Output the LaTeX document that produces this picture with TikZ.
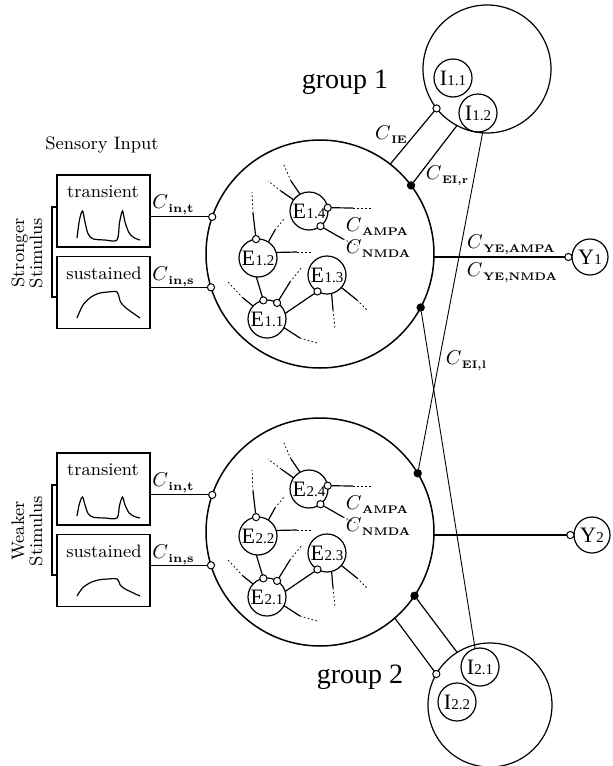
\documentclass[tikz,border=0pt]{standalone}
\usepackage{fontspec}
\newfontfamily\tms{Liberation Serif}
\usetikzlibrary{calc}
\newcommand{\Cl}[1]{$C$\kern0.2pt\raisebox{-0.5ex}{\fontsize{5.5}{6}\selectfont\bfseries #1}}
\newcommand{\Cn}[1]{$C$\kern0.2pt\raisebox{-0.5ex}{\fontsize{6}{6}\selectfont\bfseries #1}}
\newcommand{\Nl}[2]{{\tms\fontsize{11}{12}\selectfont #1\kern0.2pt{\fontsize{7.5}{8}\selectfont #2}}}
\tikzset{
  bigc/.style={circle,draw,line width=0.75pt,inner sep=0pt,outer sep=0pt},
  neur/.style={circle,draw,line width=0.6pt,minimum size=19pt,inner sep=0pt,outer sep=0pt},
  odot/.style={circle,draw,fill=white,line width=0.5pt,minimum size=3.6pt,inner sep=0pt,outer sep=0pt},
  fdot/.style={circle,fill=black,minimum size=4.2pt,inner sep=0pt,outer sep=0pt},
  sbox/.style={draw,line width=0.7pt,minimum width=46.5pt,minimum height=36pt,inner sep=0pt},
  wire/.style={line width=0.6pt},
  fine/.style={line width=0.45pt},
  fade/.style={line width=0.4pt,dash pattern=on 0.8pt off 1.2pt},
  lab/.style={font=\fontsize{9}{10}\selectfont,inner sep=0pt},
  clab/.style={font=\fontsize{10}{12}\selectfont,inner sep=0pt},
  glab/.style={font=\tms\fontsize{14}{16}\selectfont,inner sep=0pt}
}
% #1 index, #2 vertical shift (px), #3 stimulus word, #4 transient peak, #5 sustained plateau
\newcommand{\drawgroup}[5]{%
\begin{scope}[shift={(0,#2)}]
  \node[bigc,minimum size=114pt] (c#1) at (320,254) {};
  % stimulus boxes
  \node[sbox] (tr#1) at (103.5,211) {};
  \node[sbox] (su#1) at (103.5,292.5) {};
  \node[lab] at (103,192) {transient};
  \node[lab] at (104,273) {sustained};
  \draw[wire] plot[smooth,tension=0.5] coordinates {(77,238) (79.5,{240-0.7*#4}) (82.5,{240-#4}) (85,{240-0.62*#4}) (88,{240-0.22*#4}) (93,{240-0.04*#4}) (105,240) (117,240) (119.5,{240-0.6*#4}) (122.5,{240-#4}) (125,{240-0.62*#4}) (129,{240-0.25*#4}) (134,{240-0.08*#4}) (140,240)};
  \draw[wire] plot[smooth,tension=0.5] coordinates {(77,318) (83,{318-0.5*#5}) (91.5,{318-0.82*#5}) (100,{318-0.96*#5}) (108,{318-#5}) (117,{318-#5}) (120.5,{318-0.62*#5}) (125,{318-0.42*#5}) (130,{318-0.27*#5}) (140,318)};
  % bracket and stimulus label
  \coordinate (bt#1) at (52,207);
  \coordinate (bb#1) at (52,297);
  \draw[line width=0.6pt] (tr#1.west |- bt#1) -- (bt#1) -- (bb#1) -- (su#1.west |- bb#1);
  \node[rotate=90,align=center,font=\fontsize{9}{9}\selectfont,inner sep=0pt] at (27,253) {#3\\Stimulus};
  % inputs
  \node[odot] (it#1) at (c#1.161) {};
  \node[odot] (is#1) at (c#1.197.4) {};
  \draw[wire] (tr#1.east |- it#1) -- (it#1);
  \draw[wire] (su#1.east |- is#1) -- (is#1);
  \node[clab] at (173,205) {\Cn{in,t}};
  \node[clab] at (173,277) {\Cn{in,s}};
  % neurons
  \node[neur] (E#1-1) at (267,319) {\Nl{E}{#1.1}};
  \node[neur] (E#1-2) at (258,258) {\Nl{E}{#1.2}};
  \node[neur] (E#1-3) at (327,275) {\Nl{E}{#1.3}};
  \node[neur] (E#1-4) at (309,211) {\Nl{E}{#1.4}};
  % E4 connections
  \node[odot] (da#1) at (E#1-4.10) {};
  \coordinate (pa#1) at (353,208); \coordinate (qa#1) at (372,208);
  \draw[wire] (da#1) -- (pa#1); \draw[fade] (pa#1) -- (qa#1);
  \node[odot] (db#1) at (E#1-4.-53) {};
  \coordinate (pb#1) at (343,239); \coordinate (qb#1) at (358,246);
  \draw[wire] (db#1) -- (pb#1); \draw[fade] (pb#1) -- (qb#1);
  \coordinate (pc#1) at (291,181); \coordinate (qc#1) at (283,163);
  \draw[wire] (E#1-4.118) -- (pc#1); \draw[fade] (pc#1) -- (qc#1);
  \coordinate (pd#1) at (281,191); \coordinate (qd#1) at (268,181);
  \draw[wire] (E#1-4.144) -- (pd#1); \draw[fade] (pd#1) -- (qd#1);
  % E2 connections
  \coordinate (pe#1) at (275,230); \coordinate (qe#1) at (284,219);
  \draw[wire] (E#1-2.57) -- (pe#1); \draw[fade] (pe#1) -- (qe#1);
  \node[odot] (df#1) at (E#1-2.96) {};
  \coordinate (pf#1) at (253,213); \coordinate (qf#1) at (252,192);
  \draw[wire] (df#1) -- (pf#1); \draw[fade] (pf#1) -- (qf#1);
  \coordinate (pg#1) at (297,252); \coordinate (qg#1) at (312,252);
  \draw[wire] (E#1-2.17) -- (pg#1); \draw[fade] (pg#1) -- (qg#1);
  \node[odot] (dh#1) at (E#1-1.101) {};
  \draw[wire] (E#1-2.-95) -- (dh#1);
  % E1 connections
  \node[odot] (di#1) at (E#1-1.58) {};
  \coordinate (pi#1) at (290,282); \coordinate (qi#1) at (302,267);
  \draw[wire] (di#1) -- (pi#1); \draw[fade] (pi#1) -- (qi#1);
  \coordinate (pj#1) at (243,298); \coordinate (qj#1) at (228,282);
  \draw[wire] (E#1-1.137) -- (pj#1); \draw[fade] (pj#1) -- (qj#1);
  \coordinate (pk#1) at (300,338); \coordinate (qk#1) at (317,343);
  \draw[wire] (E#1-1.-27) -- (pk#1); \draw[fade] (pk#1) -- (qk#1);
  \node[odot] (dl#1) at (E#1-3.240) {};
  \draw[wire] (E#1-1.17) -- (dl#1);
  % E3 connections
  \coordinate (pm#1) at (333,310); \coordinate (qm#1) at (335,328);
  \draw[wire] (E#1-3.-76) -- (pm#1); \draw[fade] (pm#1) -- (qm#1);
  \coordinate (pn#1) at (357,300); \coordinate (qn#1) at (367,310);
  \draw[wire] (E#1-3.-41) -- (pn#1); \draw[fade] (pn#1) -- (qn#1);
  % synapse labels
  \node[clab] at (377,227) {\Cl{AMPA}};
  \node[clab] at (378,249) {\Cl{NMDA}};
\end{scope}}

\begin{document}
\begin{tikzpicture}[x=0.5pt,y=-0.5pt]
  \useasboundingbox (0,0) rectangle (612,766);
  \fill[white] (0,0) rectangle (612,766);
  \node[lab] at (102,145) {Sensory Input};
  \drawgroup{1}{0}{Stronger}{29}{26}
  \drawgroup{2}{278}{Weaker}{21}{17}
  % inhibitory groups
  \node[bigc,line width=0.6pt,minimum size=64pt] (I1c) at (487,69) {};
  \node[neur] (I1-1) at (453,78) {\Nl{I}{1.1}};
  \node[neur] (I1-2) at (478,113) {\Nl{I}{1.2}};
  \node[bigc,line width=0.6pt,minimum size=62pt] (I2c) at (490,705) {};
  \node[neur] (I2-1) at (480,667) {\Nl{I}{2.1}};
  \node[neur] (I2-2) at (457,702) {\Nl{I}{2.2}};
  % outputs
  \node[neur,minimum size=18pt] (Y1) at (590,257) {\Nl{Y}{1}};
  \node[neur,minimum size=18pt] (Y2) at (592,535) {\Nl{Y}{2}};
  \node[odot,anchor=east] (yd1) at (Y1.west) {};
  \node[odot,anchor=east] (yd2) at (Y2.west) {};
  \draw[wire] (yd1 -| c1.east) -- (yd1);
  \draw[wire] (yd2 -| c2.east) -- (yd2);
  % E <-> I connections
  \node[odot] (ie1) at (I1c.218) {};
  \draw[wire] (c1.52.4) -- (ie1);
  \node[fdot] (ei1) at (c1.37.7) {};
  \draw[wire] (I1c.242) -- (ei1);
  \node[fdot] (el1) at (c1.-28.8) {};
  \draw[fine] (el1) -- (I2-1.105);
  \node[fdot] (el2) at (c2.31) {};
  \draw[fine] (I1-2.-75) -- (el2);
  \node[fdot] (ei2) at (c2.-34.8) {};
  \draw[wire] (ei2) -- (I2c.122);
  \node[odot] (ie2) at (I2c.150) {};
  \draw[wire] (c2.-49.7) -- (ie2);
  % labels
  \node[clab] at (391,135) {\Cl{IE}};
  \node[clab] at (447,176) {\Cl{EI,r}};
  \node[clab] at (466,361) {\Cl{EI,l}};
  \node[clab] at (511,245) {\Cl{YE,AMPA}};
  \node[clab] at (512,273) {\Cl{YE,NMDA}};
  \node[glab] at (345,82) {group 1};
  \node[glab] at (360,677) {group 2};
\end{tikzpicture}
\end{document}
